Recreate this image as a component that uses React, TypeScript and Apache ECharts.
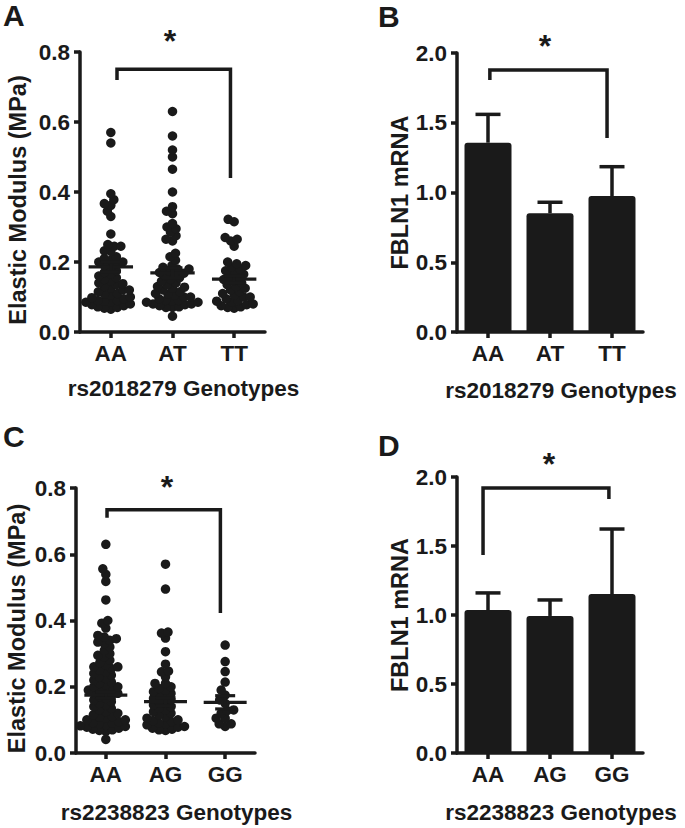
import React, { useEffect, useRef } from "react";
import * as echarts from "echarts";

const genotypes1 = ["AA", "AT", "TT"];
const genotypes2 = ["AA", "AG", "GG"];

// Panel A: elastic modulus by rs2018279 genotype
const modA_AA = [0.57, 0.54, 0.395, 0.378, 0.367, 0.362, 0.345, 0.33, 0.28, 0.25, 0.245, 0.245, 0.232, 0.23, 0.215, 0.21, 0.205, 0.2, 0.2, 0.195, 0.19, 0.185, 0.175, 0.17, 0.165, 0.16, 0.155, 0.15, 0.145, 0.14, 0.138, 0.135, 0.13, 0.125, 0.12, 0.12, 0.115, 0.11, 0.108, 0.105, 0.1, 0.098, 0.095, 0.09, 0.09, 0.088, 0.085, 0.085, 0.08, 0.078, 0.075, 0.072, 0.07, 0.068, 0.065];
const modA_AT = [0.63, 0.56, 0.52, 0.5, 0.465, 0.4, 0.358, 0.345, 0.338, 0.31, 0.3, 0.295, 0.285, 0.275, 0.265, 0.26, 0.225, 0.215, 0.205, 0.19, 0.185, 0.18, 0.18, 0.175, 0.17, 0.168, 0.165, 0.16, 0.155, 0.15, 0.145, 0.14, 0.135, 0.13, 0.128, 0.125, 0.12, 0.115, 0.11, 0.108, 0.105, 0.1, 0.1, 0.095, 0.09, 0.09, 0.088, 0.085, 0.085, 0.08, 0.08, 0.078, 0.075, 0.072, 0.07, 0.07, 0.045];
const modA_TT = [0.322, 0.315, 0.27, 0.265, 0.26, 0.245, 0.2, 0.195, 0.19, 0.185, 0.18, 0.175, 0.17, 0.165, 0.16, 0.155, 0.15, 0.145, 0.14, 0.135, 0.13, 0.125, 0.12, 0.115, 0.11, 0.105, 0.1, 0.1, 0.095, 0.09, 0.088, 0.085, 0.08, 0.078, 0.075, 0.072, 0.07, 0.068];
const meanA = [0.186, 0.169, 0.151];
const semA = [0.014, 0.014, 0.01];

// Panel C: elastic modulus by rs2238823 genotype
const modC_AA = [0.63, 0.556, 0.539, 0.518, 0.462, 0.4, 0.392, 0.377, 0.355, 0.35, 0.345, 0.34, 0.335, 0.33, 0.32, 0.31, 0.3, 0.295, 0.29, 0.28, 0.273, 0.265, 0.26, 0.26, 0.255, 0.25, 0.245, 0.24, 0.235, 0.23, 0.225, 0.22, 0.215, 0.21, 0.205, 0.2, 0.2, 0.195, 0.19, 0.19, 0.185, 0.18, 0.18, 0.175, 0.17, 0.165, 0.16, 0.155, 0.15, 0.145, 0.14, 0.135, 0.13, 0.125, 0.12, 0.115, 0.11, 0.108, 0.105, 0.1, 0.1, 0.095, 0.092, 0.09, 0.088, 0.085, 0.082, 0.08, 0.078, 0.075, 0.072, 0.07, 0.068, 0.065, 0.041];
const modC_AG = [0.57, 0.495, 0.365, 0.362, 0.347, 0.306, 0.268, 0.247, 0.245, 0.23, 0.21, 0.21, 0.2, 0.195, 0.19, 0.185, 0.18, 0.175, 0.17, 0.165, 0.16, 0.155, 0.15, 0.145, 0.14, 0.135, 0.13, 0.125, 0.12, 0.115, 0.11, 0.105, 0.1, 0.098, 0.095, 0.09, 0.088, 0.085, 0.08, 0.078, 0.075, 0.072, 0.07, 0.068];
const modC_GG = [0.326, 0.276, 0.246, 0.214, 0.19, 0.175, 0.16, 0.15, 0.13, 0.128, 0.12, 0.105, 0.105, 0.088, 0.088, 0.08];
const meanC = [0.175, 0.155, 0.153];
const semC = [0.01, 0.012, 0.02];

// Panels B and D: FBLN1 mRNA (mean, SEM)
const mrnaB = [1.357, 0.851, 0.975];
const mrnaB_sem = [0.203, 0.079, 0.21];
const mrnaD = [1.036, 0.993, 1.152];
const mrnaD_sem = [0.124, 0.116, 0.471];

// Y axis ranges [min, max, interval]
const modulusAxis = [0, 0.8, 0.2];
const mrnaAxis = [0, 2, 0.5];

// significance brackets: [xStart, xEnd, yTop, yLeftEnd, yRightEnd]
const bracketA = [0.1, 1.94, 0.751, 0.72, 0.44];
const bracketB = [0.03, 1.92, 1.878, 1.806, 1.39];
const bracketC = [0.02, 1.92, 0.734, 0.71, 0.423];
const bracketD = [-0.08, 1.95, 1.92, 1.435, 1.84];

const INK = "#1a1a1a";
const FONT = "'Liberation Sans', Arial, Helvetica, sans-serif";

const grids = [
  { left: 80, top: 52, width: 185, height: 280 },
  { left: 457, top: 53, width: 186, height: 279 },
  { left: 76, top: 488, width: 179, height: 265 },
  { left: 457, top: 477, width: 186, height: 276 },
];

function swarm(values: number[], center: number, pxPerX: number, pxPerY: number, d: number) {
  const sorted = [...values].sort((a, b) => a - b);
  const placed: { x: number; y: number }[] = [];
  const out: number[][] = [];
  for (const v of sorted) {
    const y = v * pxPerY;
    let best = 0;
    for (let k = 0; k < 600; k++) {
      const off = (k % 2 === 0 ? 1 : -1) * Math.ceil(k / 2) * 0.5;
      let ok = true;
      for (const q of placed) {
        const dx = q.x - off;
        const dy = q.y - y;
        if (dx * dx + dy * dy < d * d) {
          ok = false;
          break;
        }
      }
      if (ok) {
        best = off;
        break;
      }
    }
    placed.push({ x: best, y });
    out.push([center + best / pxPerX, v]);
  }
  return out;
}

const labelStyle = { fontSize: 22.5, fontWeight: "bold", fontFamily: FONT, color: INK };

function catAxis(gridIndex: number, cats: string[], name: string, nameGap: number) {
  return {
    type: "category",
    gridIndex,
    data: cats,
    name,
    nameLocation: "middle",
    nameGap,
    nameTextStyle: { ...labelStyle, padding: [0, 0, 0, 22] },
    axisLine: { show: true, onZero: false, lineStyle: { color: INK, width: 3.5 } },
    axisTick: { show: true, alignWithLabel: true, length: 6, lineStyle: { color: INK, width: 3.5 } },
    axisLabel: { ...labelStyle, margin: 10 },
    splitLine: { show: false },
  };
}

function hiddenX(gridIndex: number) {
  return { type: "value", gridIndex, min: -0.5, max: 2.5, show: false, axisLine: { onZero: false } };
}

function valAxis(gridIndex: number, range: number[], name: string, nameGap: number, shift: number) {
  return {
    type: "value",
    gridIndex,
    min: range[0],
    max: range[1],
    interval: range[2],
    name,
    nameLocation: "middle",
    nameGap,
    nameTextStyle: { ...labelStyle, fontSize: 23.5, padding: [0, shift, 0, 0] },
    axisLine: { show: true, onZero: false, lineStyle: { color: INK, width: 3.5 } },
    axisTick: { show: true, length: 6, lineStyle: { color: INK, width: 3.5 } },
    axisLabel: { ...labelStyle, margin: 10, formatter: (v: number) => v.toFixed(1) },
    splitLine: { show: false },
  };
}

function bracketSeries(xAxisIndex: number, yAxisIndex: number, b: number[]) {
  return {
    type: "custom",
    xAxisIndex,
    yAxisIndex,
    silent: true,
    data: [b],
    renderItem: (params: any, api: any) => {
      const p1 = api.coord([api.value(0), api.value(3)]);
      const p2 = api.coord([api.value(0), api.value(2)]);
      const p3 = api.coord([api.value(1), api.value(2)]);
      const p4 = api.coord([api.value(1), api.value(4)]);
      return {
        type: "polyline",
        shape: { points: [p1, p2, p3, p4] },
        style: { stroke: INK, lineWidth: 3.5, fill: "none", lineJoin: "miter", lineCap: "butt" },
      };
    },
  };
}

function meanSeries(xAxisIndex: number, yAxisIndex: number, means: number[], sems: number[]) {
  return {
    type: "custom",
    xAxisIndex,
    yAxisIndex,
    silent: true,
    z: 3,
    data: means.map((m, i) => [i, m, sems[i]]),
    renderItem: (params: any, api: any) => {
      const i = api.value(0);
      const m = api.value(1);
      const s = api.value(2);
      const l = api.coord([i - 0.36, m]);
      const r = api.coord([i + 0.36, m]);
      const t = api.coord([i, m + s]);
      const b = api.coord([i, m - s]);
      const st = { stroke: INK, lineWidth: 3.2 };
      return {
        type: "group",
        children: [
          { type: "line", shape: { x1: l[0], y1: l[1], x2: r[0], y2: r[1] }, style: st },
          { type: "line", shape: { x1: t[0], y1: t[1], x2: b[0], y2: b[1] }, style: st },
          { type: "line", shape: { x1: t[0] - 10, y1: t[1], x2: t[0] + 10, y2: t[1] }, style: st },
          { type: "line", shape: { x1: b[0] - 10, y1: b[1], x2: b[0] + 10, y2: b[1] }, style: st },
        ],
      };
    },
  };
}

function errorSeries(xAxisIndex: number, yAxisIndex: number, means: number[], sems: number[]) {
  return {
    type: "custom",
    xAxisIndex,
    yAxisIndex,
    silent: true,
    z: 1,
    data: means.map((m, i) => [i, m, sems[i]]),
    renderItem: (params: any, api: any) => {
      const i = api.value(0);
      const m = api.value(1);
      const s = api.value(2);
      const base = api.coord([i, m]);
      const top = api.coord([i, m + s]);
      const st = { stroke: INK, lineWidth: 3.5 };
      return {
        type: "group",
        children: [
          { type: "line", shape: { x1: base[0], y1: base[1], x2: top[0], y2: top[1] }, style: st },
          { type: "line", shape: { x1: top[0] - 12.5, y1: top[1], x2: top[0] + 12.5, y2: top[1] }, style: st },
        ],
      };
    },
  };
}

function scatterSeries(xAxisIndex: number, yAxisIndex: number, groups: number[][], g: any, range: number[]) {
  const pxPerX = g.width / 3;
  const pxPerY = g.height / (range[1] - range[0]);
  const data: number[][] = [];
  groups.forEach((vals, gi) => {
    swarm(vals, gi, pxPerX, pxPerY, 6.3).forEach((p) => data.push(p));
  });
  return {
    type: "scatter",
    xAxisIndex,
    yAxisIndex,
    symbol: "circle",
    symbolSize: 9.5,
    itemStyle: { color: INK, opacity: 1 },
    silent: true,
    z: 2,
    data,
  };
}

function barSeries(xAxisIndex: number, yAxisIndex: number, vals: number[]) {
  return {
    type: "bar",
    xAxisIndex,
    yAxisIndex,
    barWidth: 47,
    silent: true,
    z: 2,
    itemStyle: { color: INK, borderRadius: [3, 3, 0, 0] },
    data: vals,
  };
}

function textEl(text: string, x: number, y: number, size: number) {
  return {
    type: "text",
    x,
    y,
    silent: true,
    style: {
      text,
      fill: INK,
      fontSize: size,
      fontWeight: "bold",
      fontFamily: FONT,
      align: "left",
      verticalAlign: "middle",
      textAlign: "left",
      textVerticalAlign: "middle",
    },
  };
}

function starEl(x: number, y: number) {
  return {
    type: "text",
    x,
    y,
    silent: true,
    style: {
      text: "*",
      fill: INK,
      fontSize: 32,
      fontWeight: "bold",
      fontFamily: FONT,
      align: "center",
      verticalAlign: "middle",
      textAlign: "center",
      textVerticalAlign: "middle",
    },
  };
}

export default function App() {
  const ref = useRef<HTMLDivElement>(null);
  useEffect(() => {
    if (!ref.current) return;
    const chart = echarts.init(ref.current, undefined, { renderer: "svg" });
    const option: any = {
      animation: false,
      backgroundColor: "#ffffff",
      grid: grids.map((g) => ({ ...g, containLabel: false })),
      xAxis: [
        catAxis(0, genotypes1, "rs2018279 Genotypes", 45),
        hiddenX(0),
        catAxis(1, genotypes1, "rs2018279 Genotypes", 47),
        hiddenX(1),
        catAxis(2, genotypes2, "rs2238823 Genotypes", 48),
        hiddenX(2),
        catAxis(3, genotypes2, "rs2238823 Genotypes", 48),
        hiddenX(3),
      ],
      yAxis: [
        valAxis(0, modulusAxis, "Elastic Modulus (MPa)", 50, 16),
        valAxis(1, mrnaAxis, "FBLN1 mRNA", 43, 0),
        valAxis(2, modulusAxis, "Elastic Modulus (MPa)", 47, 16),
        valAxis(3, mrnaAxis, "FBLN1 mRNA", 43, 0),
      ],
      series: [
        scatterSeries(1, 0, [modA_AA, modA_AT, modA_TT], grids[0], modulusAxis),
        meanSeries(1, 0, meanA, semA),
        bracketSeries(1, 0, bracketA),
        barSeries(2, 1, mrnaB),
        errorSeries(2, 1, mrnaB, mrnaB_sem),
        bracketSeries(3, 1, bracketB),
        scatterSeries(5, 2, [modC_AA, modC_AG, modC_GG], grids[2], modulusAxis),
        meanSeries(5, 2, meanC, semC),
        bracketSeries(5, 2, bracketC),
        barSeries(6, 3, mrnaD),
        errorSeries(6, 3, mrnaD, mrnaD_sem),
        bracketSeries(7, 3, bracketD),
      ],
      graphic: [
        textEl("A", 3, 15, 30),
        textEl("B", 378, 16, 30),
        textEl("C", 3, 436, 30),
        textEl("D", 378, 445, 30),
        starEl(170, 41),
        starEl(545, 46),
        starEl(167, 487),
        starEl(549, 464),
      ],
    };
    chart.setOption(option);
    return () => chart.dispose();
  }, []);
  return (
    <div
      ref={ref}
      style={{ position: "absolute", left: 0, top: 0, width: 685, height: 828, background: "#fff" }}
    />
  );
}
